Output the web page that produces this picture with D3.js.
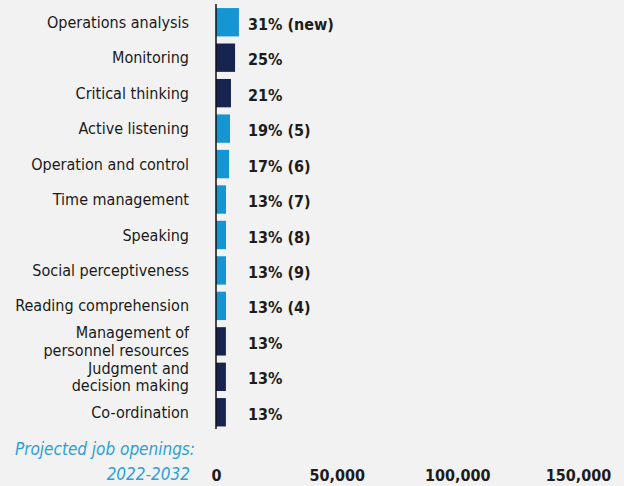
<!DOCTYPE html>
<html>
<head>
<meta charset="utf-8">
<script src="https://cdn.jsdelivr.net/npm/d3@7"></script>
<style>
  html, body { margin: 0; padding: 0; background: #f2f2f2; }
  svg { display: block; font-family: "DejaVu Sans Condensed", "DejaVu Sans", sans-serif; font-stretch: condensed; }
</style>
</head>
<body>
<div id="chart"></div>
<script>
// skills, projected openings and share labels
const skills = [
  "Operations analysis", "Monitoring", "Critical thinking", "Active listening",
  "Operation and control", "Time management", "Speaking", "Social perceptiveness",
  "Reading comprehension", "Management of\npersonnel resources",
  "Judgment and\ndecision making", "Co-ordination"
];
const openings = [9500, 7900, 6200, 5800, 5400, 4150, 4150, 4150, 4150, 4100, 4100, 4100];
const shareLabels = ["31% (new)", "25%", "21%", "19% (5)", "17% (6)", "13% (7)",
  "13% (8)", "13% (9)", "13% (4)", "13%", "13%", "13%"];
const highlighted = [true, false, false, true, true, true, true, true, true, false, false, false];
const tickValues = [0, 50000, 100000, 150000];

const width = 624, height = 486;
const blue = "#1596d2", navy = "#16244f";

const svg = d3.select("#chart").append("svg")
  .attr("width", width)
  .attr("height", height);

const x = d3.scaleLinear().domain([0, 150000]).range([216, 578]);
const y = d3.scaleBand().domain(d3.range(skills.length)).range([4.5, 430]).paddingInner(0.2).paddingOuter(0.1);

// bars
svg.append("g")
  .selectAll("rect")
  .data(openings)
  .join("rect")
  .attr("x", x(0))
  .attr("y", (d, i) => y(i))
  .attr("width", d => x(d) - x(0))
  .attr("height", y.bandwidth())
  .attr("fill", (d, i) => highlighted[i] ? blue : navy);

// vertical axis line
svg.append("line")
  .attr("x1", x(0)).attr("x2", x(0))
  .attr("y1", 4).attr("y2", 429)
  .attr("stroke", "#111").attr("stroke-width", 1.5);

// category labels
const cat = svg.append("g")
  .selectAll("text")
  .data(skills)
  .join("text")
  .attr("text-anchor", "end")
  .attr("font-size", 16)
  .attr("fill", "#1a1a1a");
cat.each(function (d, i) {
  const lines = d.split("\n");
  const cy = y(i) + y.bandwidth() / 2;
  const t = d3.select(this);
  lines.forEach((ln, k) => {
    t.append("tspan")
      .attr("x", 189)
      .attr("y", cy + (k - (lines.length - 1) / 2) * 17.5)
      .attr("dy", "0.35em")
      .text(ln);
  });
});

// share labels
svg.append("g")
  .selectAll("text")
  .data(shareLabels)
  .join("text")
  .attr("x", 248)
  .attr("y", (d, i) => y(i) + y.bandwidth() / 2 + 2)
  .attr("dy", "0.35em")
  .attr("font-size", 16)
  .attr("font-weight", "bold")
  .attr("fill", "#1c1c1c")
  .text(d => d);

// bottom axis tick labels
const axis = d3.axisBottom(x).tickValues(tickValues).tickFormat(d3.format(",")).tickSize(0);
const ax = svg.append("g")
  .attr("transform", "translate(0,467)")
  .call(axis);
ax.select(".domain").remove();
ax.selectAll("text")
  .attr("font-family", "DejaVu Sans Condensed, DejaVu Sans, sans-serif")
  .attr("font-size", 16)
  .attr("font-weight", "bold")
  .attr("fill", "#1c1c1c");

// footer title
svg.append("text")
  .attr("x", 195).attr("y", 449)
  .attr("dy", "0.35em")
  .attr("text-anchor", "end")
  .attr("font-size", 17)
  .attr("font-style", "italic")
  .attr("fill", "#2a9fd8")
  .text("Projected job openings:");
svg.append("text")
  .attr("x", 190).attr("y", 474)
  .attr("dy", "0.35em")
  .attr("text-anchor", "end")
  .attr("font-size", 17)
  .attr("font-style", "italic")
  .attr("fill", "#2a9fd8")
  .text("2022-2032");
</script>
</body>
</html>
